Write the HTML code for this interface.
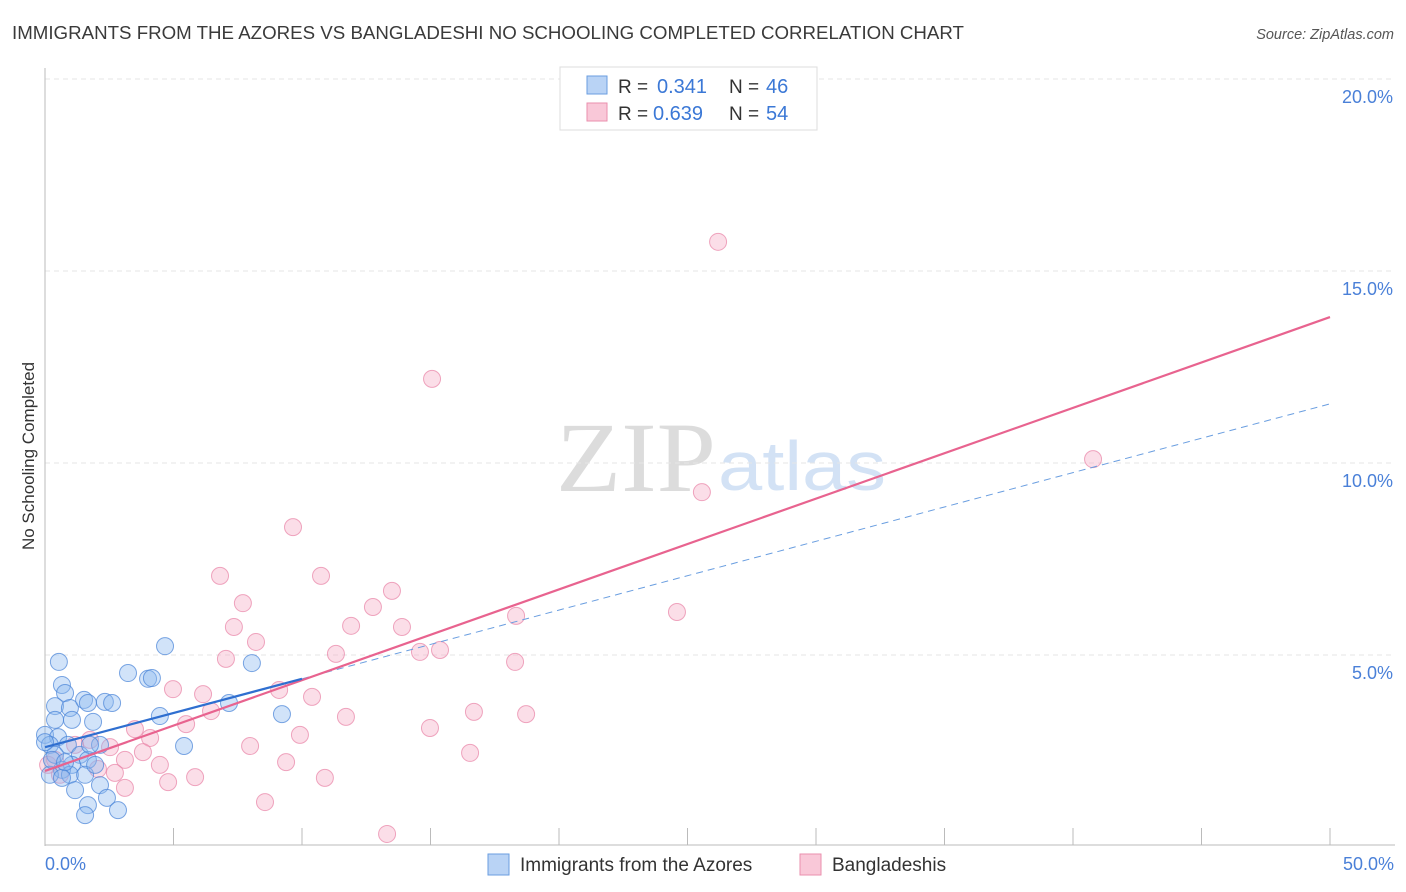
<!DOCTYPE html>
<html><head><meta charset="utf-8"><style>
body{margin:0;background:#fff;font-family:"Liberation Sans",sans-serif;}
svg{display:block}
</style></head><body>
<svg id="chart" width="1406" height="892">
<text x="12" y="39" font-size="18" fill="#3a3a3a" textLength="952" lengthAdjust="spacingAndGlyphs">IMMIGRANTS FROM THE AZORES VS BANGLADESHI NO SCHOOLING COMPLETED CORRELATION CHART</text>
<text x="1394" y="39" font-size="14.5" fill="#555" font-style="italic" text-anchor="end">Source: ZipAtlas.com</text>
<text x="716" y="491" font-size="100" fill="#dcdcdc" text-anchor="end" font-family="Liberation Serif,serif" textLength="160" lengthAdjust="spacingAndGlyphs">ZIP</text>
<text x="718" y="490" font-size="70" fill="#d3e2f5" textLength="168" lengthAdjust="spacingAndGlyphs">atlas</text>
<text transform="translate(34,456) rotate(-90)" font-size="17" fill="#333" text-anchor="middle">No Schooling Completed</text>
<g id="grid"></g><g id="axes"></g><g id="marks"></g><g id="lines"></g>
<g>
<rect x="560" y="67" width="257" height="63" fill="#fff" stroke="#ddd"/>
<rect x="587" y="76" width="20" height="18" fill="#b9d3f5" stroke="#6a9ee0"/>
<rect x="587" y="103" width="20" height="18" fill="#f9c8d8" stroke="#ea8fae"/>
<text x="618" y="93" font-size="19" fill="#333">R = </text>
<text x="657" y="93" font-size="20" fill="#3b78d6">0.341</text>
<text x="729" y="93" font-size="19" fill="#333">N = </text>
<text x="766" y="93" font-size="20" fill="#3b78d6">46</text>
<text x="618" y="120" font-size="19" fill="#333">R = </text>
<text x="653" y="120" font-size="20" fill="#3b78d6">0.639</text>
<text x="729" y="120" font-size="19" fill="#333">N = </text>
<text x="766" y="120" font-size="20" fill="#3b78d6">54</text>
</g>
<g>
<rect x="488" y="854" width="21" height="21" fill="#b9d3f5" stroke="#6a9ee0"/>
<text x="520" y="871" font-size="19" fill="#333">Immigrants from the Azores</text>
<rect x="800" y="854" width="21" height="21" fill="#f9c8d8" stroke="#ea8fae"/>
<text x="832" y="871" font-size="19" fill="#333">Bangladeshis</text>
</g>
</svg>
<script>
const blueX=[0.54,0.66,0.78,0.39,0.97,0.39,1.05,1.87,1.52,1.67,2.33,2.61,3.23,4.01,4.16,4.67,8.05,4.47,7.16,9.22,5.41,2.14,0,0.51,0.19,0.89,0.39,1.36,1.67,1.05,0.66,0.97,1.56,0.19,0.66,2.14,1.17,2.41,1.67,1.56,2.84,0.27,1.95,1.75,0.78,0];
const blueY=[4.82,4.22,4.01,3.67,3.62,3.31,3.31,3.26,3.83,3.75,3.78,3.75,4.53,4.38,4.40,5.23,4.79,3.41,3.75,3.46,2.63,2.66,2.92,2.86,2.66,2.66,2.40,2.40,2.27,2.14,2.01,1.88,1.88,1.88,1.80,1.61,1.48,1.28,1.09,0.83,0.96,2.27,2.14,2.66,2.21,2.73];
const pinkX=[26.19,15.06,40.78,25.56,9.65,6.81,10.74,7.70,13.50,12.76,7.35,8.21,11.91,13.89,18.33,24.59,7.04,11.32,14.59,15.37,18.29,4.98,6.15,9.11,10.39,6.46,11.71,16.69,18.72,5.49,14.98,9.92,3.50,4.09,1.75,7.98,2.53,3.81,16.54,3.11,9.38,4.47,2.06,2.72,10.89,5.84,4.79,3.11,8.56,13.31,0.12,0.58,1.17,0.39];
const pinkY=[15.76,12.19,10.10,9.24,8.33,7.06,7.06,6.35,6.67,6.25,5.73,5.34,5.76,5.73,6.02,6.12,4.90,5.03,5.08,5.13,4.82,4.11,3.98,4.09,3.91,3.54,3.39,3.52,3.46,3.20,3.10,2.92,3.07,2.84,2.79,2.63,2.60,2.47,2.45,2.27,2.21,2.14,2.03,1.93,1.80,1.82,1.69,1.54,1.17,0.34,2.14,1.88,2.66,2.27];
const yTicks=[5,10,15,20];
const yTickLabels=["5.0%","10.0%","15.0%","20.0%"];
const blueFit=[2.60,4.38,11.54]; // at x=0, x=10, x=50
const pinkFit=[1.98,13.80]; // at x=0, x=50
const NS="http://www.w3.org/2000/svg";
const X=v=>45+v*25.7, Y=v=>847-v*38.4;
function mk(tag,attrs,parent){const e=document.createElementNS(NS,tag);for(const k in attrs)e.setAttribute(k,attrs[k]);document.getElementById(parent).appendChild(e);return e;}
yTicks.forEach((t,i)=>{
 const g=mk('line',{x1:45,x2:1395,y1:Y(t),y2:Y(t),stroke:'#e6e6e6','stroke-dasharray':'5,4'},'grid');
 
 
 const l=mk('text',{x:1393,y:Y(t)+24,'font-size':18,fill:'#4a80d8','text-anchor':'end'},'grid');
 l.textContent=yTickLabels[i];
 
 
});
let a=mk('line',{x1:45,x2:45,y1:68,y2:846,stroke:'#bbb'},'axes');


a=mk('line',{x1:45,x2:1395,y1:845,y2:845,stroke:'#bbb'},'axes');


for(let k=0;k<=10;k++){const t=mk('line',{x1:X(k*5),x2:X(k*5),y1:828,y2:845,stroke:'#bbb'},'axes');
 
 }
let xl=mk('text',{x:45,y:870,'font-size':18,fill:'#4a80d8'},'axes');xl.textContent='0.0%';


xl=mk('text',{x:1394,y:870,'font-size':18,fill:'#4a80d8','text-anchor':'end'},'axes');xl.textContent='50.0%';


pinkX.forEach((v,i)=>{const c=mk('circle',{cx:X(v),cy:Y(pinkY[i]),r:8.5,fill:'rgba(244,160,190,0.35)',stroke:'rgba(232,130,165,0.7)','stroke-width':1},'marks');
 
 });
blueX.forEach((v,i)=>{const c=mk('circle',{cx:X(v),cy:Y(blueY[i]),r:8.5,fill:'rgba(140,185,240,0.4)',stroke:'rgba(70,130,215,0.7)','stroke-width':1},'marks');
 
 });
let ln=mk('line',{x1:X(10),y1:Y(blueFit[1]),x2:X(50),y2:Y(blueFit[2]),stroke:'#6a9ee0','stroke-width':1,'stroke-dasharray':'7,5'},'lines');


ln=mk('line',{x1:X(0),y1:Y(pinkFit[0]),x2:X(50),y2:Y(pinkFit[1]),stroke:'#e8638f','stroke-width':2.2},'lines');


ln=mk('line',{x1:X(0),y1:Y(blueFit[0]),x2:X(10),y2:Y(blueFit[1]),stroke:'#2f6fd0','stroke-width':2.2},'lines');


</script>
</body></html>
